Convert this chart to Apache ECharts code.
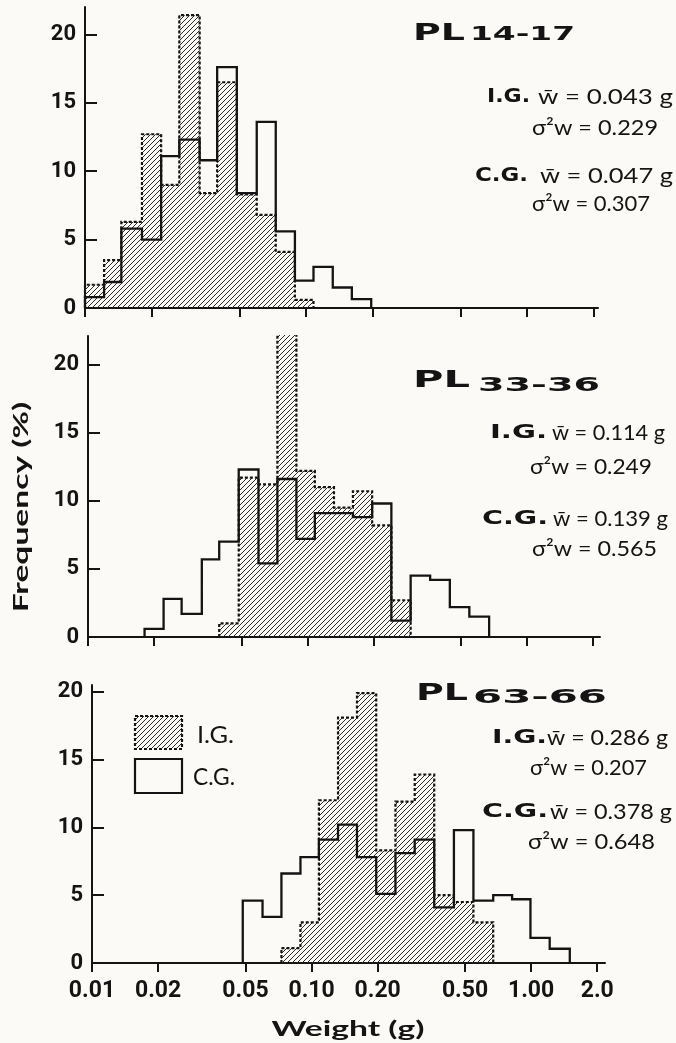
<!DOCTYPE html>
<html>
<head>
<meta charset="utf-8">
<title>Weight frequency, PL 14-17 / 33-36 / 63-66</title>
<script src="https://cdn.jsdelivr.net/npm/echarts@6.0.0/dist/echarts.min.js"></script>
<style>
  html, body { margin: 0; padding: 0; background: #fbfaf6; }
  #chart { width: 676px; height: 1043px; }
</style>
</head>
<body>
<div id="chart"></div>
<script>
// bin edges in grams (same bins in all three panels)
const binEdges = [0.0100, 0.0122, 0.0146, 0.0181, 0.0221, 0.0267, 0.0330, 0.0396, 0.0486, 0.0598,
  0.0729, 0.0890, 0.108, 0.132, 0.161, 0.197, 0.241, 0.295, 0.362, 0.445,
  0.546, 0.672, 0.819, 0.993, 1.215, 1.50];

// frequency (%) of each bin, the first value sits in binEdges[start]
const pl1417IG = [1.7, 3.5, 6.3, 12.7, 9.0, 21.4, 8.4, 16.5, 8.3, 6.8, 4.1, 0.6];
const pl1417IGStart = 0;
const pl1417CG = [0.8, 1.9, 5.8, 5.0, 11.1, 12.3, 10.8, 17.6, 8.4, 13.6, 5.6, 2.0, 3.0, 1.5, 0.65];
const pl1417CGStart = 0;

const pl3336IG = [1.0, 11.7, 11.2, 22.3, 12.2, 11.0, 9.5, 10.7, 8.2, 2.7];
const pl3336IGStart = 7;
const pl3336CG = [0.6, 2.8, 1.7, 5.7, 7.0, 12.3, 5.4, 11.6, 7.2, 9.1, 9.1, 8.8, 9.8, 1.2, 4.5, 4.2, 2.2, 1.5];
const pl3336CGStart = 3;

const pl6366IG = [1.1, 3.0, 12.0, 18.1, 19.9, 8.3, 11.9, 13.9, 5.0, 4.5, 3.0];
const pl6366IGStart = 10;
const pl6366CG = [4.6, 3.4, 6.6, 7.8, 9.1, 10.2, 7.8, 5.1, 8.1, 9.1, 4.1, 9.8, 4.6, 5.0, 4.7, 1.85, 1.05];
const pl6366CGStart = 8;

// axis ticks
const weightTicks = [0.01, 0.02, 0.05, 0.1, 0.2, 0.5, 1, 2];
const weightTickLabels = ['0.01', '0.02', '0.05', '0.10', '0.20', '0.50', '1.00', '2.0'];
const freqTicks = [0, 5, 10, 15, 20];

// texts next to each panel
const panelTitles = [['PL', '14-17'], ['PL', '33-36'], ['PL', '63-66']];
const panelStats = [
  ['w̄ = 0.043 g', 'σ²w = 0.229', 'w̄ = 0.047 g', 'σ²w = 0.307'],
  ['w̄ = 0.114 g', 'σ²w = 0.249', 'w̄ = 0.139 g', 'σ²w = 0.565'],
  ['w̄ = 0.286 g', 'σ²w = 0.207', 'w̄ = 0.378 g', 'σ²w = 0.648']
];

const ink = '#141414';
const narrow = "Roboto, 'Liberation Sans', sans-serif";
const heavy = "'DejaVu Sans', sans-serif";
const light = "Lato, 'Noto Sans', sans-serif";

// hatch fill ////
function hatchPattern() {
  const s = 5;
  const c = document.createElement('canvas');
  c.width = s;
  c.height = s;
  const g = c.getContext('2d');
  g.strokeStyle = '#2b2b2b';
  g.lineWidth = 1;
  g.beginPath();
  g.moveTo(-1, s + 1); g.lineTo(s + 1, -1);
  g.moveTo(-1, 1); g.lineTo(1, -1);
  g.moveTo(s - 1, s + 1); g.lineTo(s + 1, s - 1);
  g.stroke();
  return c;
}
const hatch = { image: hatchPattern(), repeat: 'repeat' };

// outline points of a histogram, drawn with step: 'end'
function stepData(values, start) {
  const pts = [[binEdges[start], 0]];
  values.forEach((v, i) => pts.push([binEdges[start + i], v]));
  pts.push([binEdges[start + values.length], 0]);
  return pts;
}

const measure = document.createElement('canvas').getContext('2d');
function textWidth(str, font) {
  measure.font = font;
  return measure.measureText(str).width;
}
function text(x, y, str, font, fitWidth, opts) {
  opts = opts || {};
  let sx = fitWidth ? fitWidth / textWidth(str, font) : 1;
  if (opts.maxScale) sx = Math.min(sx, opts.maxScale);
  if (opts.minScale) sx = Math.max(sx, opts.minScale);
  return {
    type: 'text', x: x, y: y, scaleX: sx, rotation: opts.rotation || 0, z: 100,
    style: {
      text: str, font: font, fill: ink,
      textAlign: opts.align || 'left', align: opts.align || 'left',
      textVerticalAlign: 'middle', verticalAlign: 'middle'
    }
  };
}

// panel layout: [left, top, width, height, x max, y max]
const panels = [
  [85, 7, 513, 301, 2.09, 22.0],
  [88, 336, 512, 301, 2.15, 22.1],
  [92, 685, 513, 278, 2.17, 20.5]
];

function sameTick(a, b) {
  return Math.abs(Math.log10(a / b)) < 1e-4;
}

const grids = [], xAxes = [], yAxes = [], series = [];
const igData = [[pl1417IG, pl1417IGStart], [pl3336IG, pl3336IGStart], [pl6366IG, pl6366IGStart]];
const cgData = [[pl1417CG, pl1417CGStart], [pl3336CG, pl3336CGStart], [pl6366CG, pl6366CGStart]];

panels.forEach((p, i) => {
  const last = i === panels.length - 1;
  grids.push({ left: p[0], top: p[1], width: p[2], height: p[3] });
  xAxes.push({
    type: 'log', logBase: 10, gridIndex: i, min: 0.01, max: p[4],
    axisLine: { show: true, onZero: false, lineStyle: { color: ink, width: 2 } },
    axisTick: { show: true, customValues: weightTicks, length: 9, lineStyle: { color: ink, width: 2 } },
    axisLabel: {
      show: last, customValues: weightTicks, margin: 17,
      color: ink, fontFamily: narrow, fontWeight: 'bold', fontSize: 23,
      formatter: v => {
        const k = weightTicks.findIndex(t => sameTick(t, v));
        return k >= 0 ? weightTickLabels[k] : '';
      }
    },
    splitLine: { show: false },
    minorTick: { show: false }
  });
  yAxes.push({
    type: 'value', gridIndex: i, min: 0, max: p[5],
    axisLine: { show: true, lineStyle: { color: ink, width: 2 } },
    axisTick: { show: true, inside: true, customValues: freqTicks, length: 12, lineStyle: { color: ink, width: 2 } },
    axisLabel: {
      customValues: freqTicks, margin: 9,
      color: ink, fontFamily: narrow, fontWeight: 'bold', fontSize: 22
    },
    splitLine: { show: false }
  });
  series.push({
    name: 'I.G.', type: 'line', step: 'end', xAxisIndex: i, yAxisIndex: i,
    data: stepData(igData[i][0], igData[i][1]),
    symbol: 'none', z: 2, silent: true,
    lineStyle: { color: ink, width: 2.2, type: [3, 2], join: 'miter' },
    areaStyle: { color: hatch, opacity: 1 }
  });
  series.push({
    name: 'C.G.', type: 'line', step: 'end', xAxisIndex: i, yAxisIndex: i,
    data: stepData(cgData[i][0], cgData[i][1]),
    symbol: 'none', z: 3, silent: true,
    lineStyle: { color: ink, width: 2.3, join: 'miter' }
  });
});

// titles and statistics next to each panel
const titleAt = [
  { pl: [413, 34, 52], sub: [470, 35, 105] },
  { pl: [413, 381, 57], sub: [478, 386, 122] },
  { pl: [416, 694, 52], sub: [473, 698, 134] }
];
const statsAt = [
  { ig: [487, 97, 43], igw: [538, 97, 135], igs: [532, 128, 126], cg: [475, 176, 53], cgw: [540, 176, 133], cgs: [532, 204, 118] },
  { ig: [490, 433, 57], igw: [552, 433, 113], igs: [530, 467, 122], cg: [482, 519, 66], cgw: [553, 519, 115], cgs: [532, 549, 125] },
  { ig: [492, 738, 55], igw: [547, 738, 121], igs: [530, 768, 117], cg: [482, 812, 66], cgw: [550, 812, 122], cgs: [528, 842, 127] }
];

const graphics = [];
const titleFont = 'bold 23px ' + heavy;
const subFont = 'bold 19px ' + heavy;
const tagFont = 'bold 20px ' + heavy;
const statFont = '22px ' + light;
const fitStat = { minScale: 0.8, maxScale: 1.25 };

panelTitles.forEach((t, i) => {
  const a = titleAt[i];
  graphics.push(text(a.pl[0], a.pl[1], t[0], titleFont, a.pl[2]));
  graphics.push(text(a.sub[0], a.sub[1], t[1], subFont, a.sub[2]));
  const s = statsAt[i];
  const st = panelStats[i];
  graphics.push(text(s.ig[0], s.ig[1], 'I.G.', tagFont, s.ig[2]));
  graphics.push(text(s.igw[0], s.igw[1], st[0], statFont, s.igw[2], fitStat));
  graphics.push(text(s.igs[0], s.igs[1], st[1], statFont, s.igs[2], fitStat));
  graphics.push(text(s.cg[0], s.cg[1], 'C.G.', tagFont, s.cg[2]));
  graphics.push(text(s.cgw[0], s.cgw[1], st[2], statFont, s.cgw[2], fitStat));
  graphics.push(text(s.cgs[0], s.cgs[1], st[3], statFont, s.cgs[2], fitStat));
});

// legend in the bottom panel
graphics.push({
  type: 'rect', shape: { x: 135, y: 716, width: 47, height: 33 }, z: 100,
  style: { fill: hatch, stroke: ink, lineWidth: 2.2, lineDash: [3, 2] }
});
graphics.push(text(197, 735, 'I.G.', '24px ' + light, 37, fitStat));
graphics.push({
  type: 'rect', shape: { x: 135, y: 759, width: 47, height: 34 }, z: 100,
  style: { fill: 'none', stroke: ink, lineWidth: 2.2 }
});
graphics.push(text(193, 777, 'C.G.', '24px ' + light, 42, fitStat));

// axis names
graphics.push(text(348, 1029, 'Weight (g)', 'bold 21px ' + light, 159, { align: 'center', maxScale: 1.6 }));
graphics.push(text(21, 507, 'Frequency (%)', 'bold 21px ' + light, 227, { align: 'center', maxScale: 1.6, rotation: Math.PI / 2 }));

const chart = echarts.init(document.getElementById('chart'), null, { renderer: 'canvas' });
chart.setOption({
  backgroundColor: '#fbfaf6',
  animation: false,
  grid: grids,
  xAxis: xAxes,
  yAxis: yAxes,
  series: series,
  graphic: graphics
});
</script>
</body>
</html>
